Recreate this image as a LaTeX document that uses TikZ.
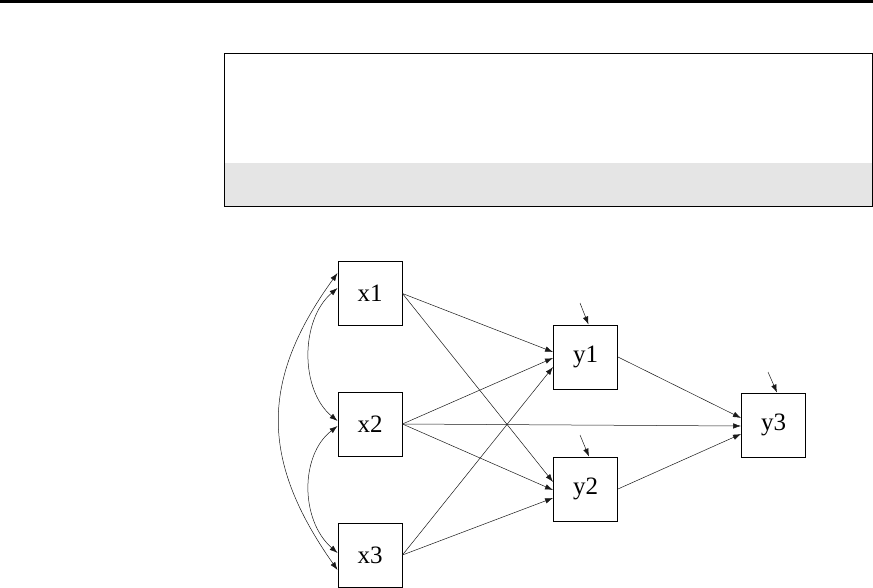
\documentclass[tikz,border=0pt]{standalone}
\usepackage{fontspec}
\setmainfont{Liberation Serif}
\usetikzlibrary{arrows.meta,calc}
\definecolor{bandgray}{RGB}{229,229,229}
\begin{document}
\begin{tikzpicture}[x=1pt,y=-1pt,
  varbox/.style={draw=black,line width=0.9pt,minimum width=64pt,minimum height=64pt,inner sep=0pt,font=\fontsize{25}{27}\selectfont},
  path/.style={draw=black!90,line width=0.5pt,-{Latex[length=8pt,width=5.5pt]}},
  cov/.style={draw=black!90,line width=0.5pt,{Latex[length=8pt,width=5.5pt]}-{Latex[length=8pt,width=5.5pt]}}]
\useasboundingbox (0,0) rectangle (873,588);
% header
\fill[black] (0,0) rectangle (873,2.6);
\fill[bandgray] (224,163) rectangle (872,207);
\draw[line width=1pt] (224,54) rectangle (872,207);
% nodes
\node[varbox] (x1) at (370,293.5) {x1};
\node[varbox] (x2) at (370,424) {x2};
\node[varbox] (x3) at (370,555) {x3};
\node[varbox] (y1) at (585.5,357) {y1};
\node[varbox] (y2) at (585.5,489) {y2};
\node[varbox] (y3) at (773.5,425) {y3};
% paths
\draw[path] (x1.east) -- ([yshift=5pt]y1.west);
\draw[path] (x2.east) -- ([yshift=-1pt]y1.west);
\draw[path] (x3.east) -- ([yshift=-10pt]y1.west);
\draw[path] (x1.east) -- ([yshift=7pt]y2.west);
\draw[path] (x2.east) -- ([yshift=-1pt]y2.west);
\draw[path] (x3.east) -- ([yshift=-9pt]y2.west);
\draw[path] (y1.east) -- ([yshift=7pt]y3.west);
\draw[path] (x2.east) -- ([yshift=-1pt]y3.west);
\draw[path] (y2.east) -- ([yshift=-9pt]y3.west);
% residuals
\coordinate (r1) at (580,303);
\coordinate (r2) at (580,435);
\coordinate (r3) at (768,372);
\draw[path] (r1) -- ([xshift=3pt]y1.north);
\draw[path] (r2) -- ([xshift=3.5pt]y2.north);
\draw[path] (r3) -- ([xshift=3.5pt]y3.north);
% covariances
\draw[cov] ([yshift=20.5pt]x1.west) .. controls (260,380) and (260,460) .. ([yshift=-15pt]x3.west);
\draw[cov] ([yshift=5.5pt]x1.west) .. controls (300,320) and (300,390) .. ([yshift=3pt]x2.west);
\draw[cov] ([yshift=-2pt]x2.west) .. controls (300,455) and (300,520) .. ([yshift=2pt]x3.west);
\end{tikzpicture}
\end{document}
